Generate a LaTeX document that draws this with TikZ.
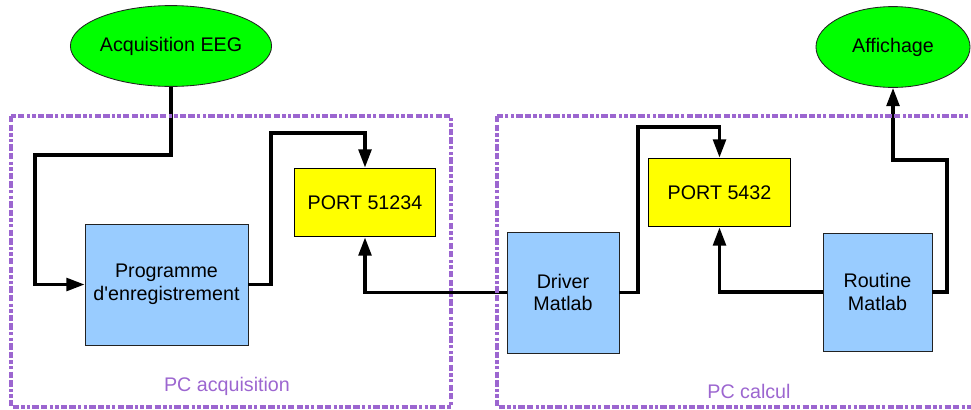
\documentclass[tikz,border=0pt]{standalone}
\usepackage{fontspec}
\setmainfont{Liberation Sans}
\usetikzlibrary{shapes.geometric,arrows.meta}
\definecolor{eeggreen}{HTML}{00FF00}
\definecolor{eegblue}{HTML}{99CCFF}
\definecolor{eegyellow}{HTML}{FFFF00}
\definecolor{eegpurple}{HTML}{9C66D0}
\definecolor{eegfg}{HTML}{222222}

\begin{document}
\begin{tikzpicture}[x=0.025cm,y=-0.025cm,>={Triangle[length=13pt,width=9pt]},font=\fontsize{14}{16}\selectfont]
  \tikzstyle{source}=[ellipse, draw=eegfg, line width=0.6pt, fill=eeggreen, inner sep=0pt, minimum width=3.85cm, minimum height=2.02cm]
  \tikzstyle{block}=[draw=eegfg, line width=0.6pt, fill=eegblue, align=center, inner sep=0pt]
  \tikzstyle{port}=[draw=black, line width=0.6pt, fill=eegyellow, align=center, inner sep=0pt, minimum width=3.54cm, minimum height=1.72cm]
  \tikzstyle{arrow}=[->, line width=2.5pt, draw=black]
  \tikzstyle{frame}=[draw=eegpurple, line width=2.4pt, dash pattern=on 4.5pt off 1.6pt on 4.5pt off 1.6pt on 2.4pt off 1.6pt on 2.4pt off 1.6pt]
  \tikzstyle{framelabel}=[text=eegpurple]

  \path[use as bounding box] (0,0) rectangle (971,409);

  \node[source] (acq) at (171,46) {Acquisition EEG};
  \node[source] (aff) at (893,47) {Affichage};

  \node[block, minimum width=4.07cm, minimum height=3.02cm] (prog) at (166.5,284.5) {Programme\\d\textquotesingle enregistrement};
  \node[port] (p1) at (365,202.5) {PORT 51234};

  \node[block, minimum width=2.8cm, minimum height=3.02cm] (drv) at (563,292.5) {Driver\\Matlab};
  \node[port] (p2) at (719.5,192.5) {PORT 5432};
  \node[block, minimum width=2.72cm, minimum height=2.95cm] (rout) at (877.5,292) {Routine\\Matlab};

  \coordinate (c1) at (35,155);
  \coordinate (c2) at (271,133);
  \coordinate (c4) at (638,127);
  \coordinate (c6) at (947,160);

  \draw[arrow] (acq.south) -- (acq.south |- c1) -- (c1) |- (prog.west);
  \draw[arrow] (prog.east) -| (c2) -| (p1.north);
  \draw[arrow] (drv.west) -| (p1.south);
  \draw[arrow] (drv.east) -| (c4) -| (p2.north);
  \draw[arrow] (rout.west) -| (p2.south);
  \draw[arrow] (rout.east) -| (c6) -| (aff.south);

  % dashed frames
  \draw[frame] (11,116) rectangle (451,407);
  \draw[frame] (497,116) rectangle (990,407);
  \node[framelabel] (pcacq) at (227,386) {PC acquisition};
  \node[framelabel] (pccalc) at (749,391) {PC calcul};
\end{tikzpicture}
\end{document}
